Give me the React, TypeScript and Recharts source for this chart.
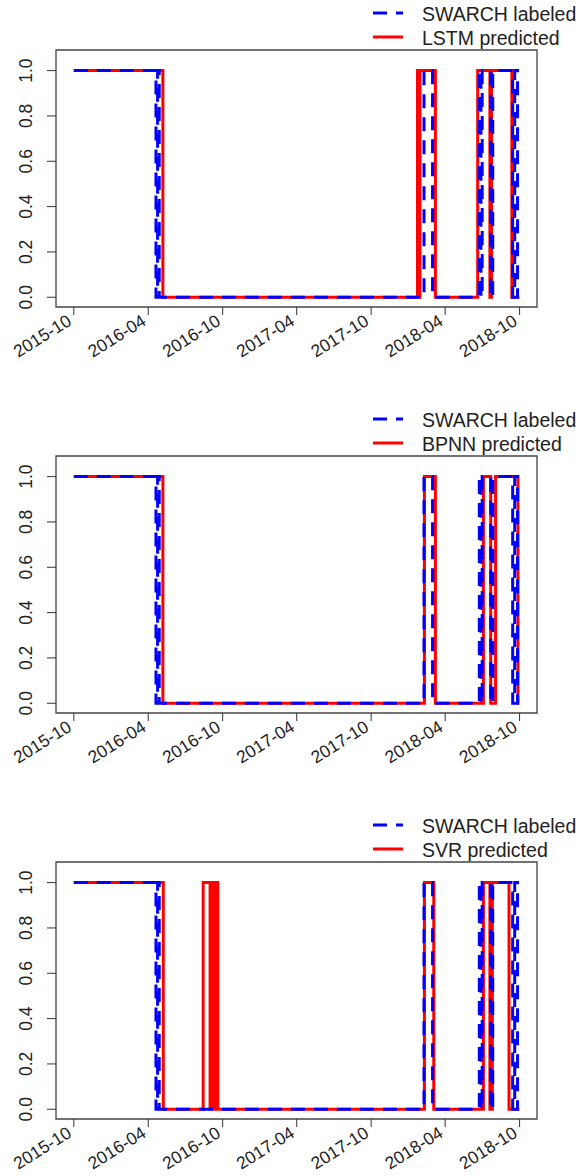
import React from 'react';
import { LineChart, Line, XAxis, YAxis, ReferenceArea } from 'recharts';

const xTickLabels = ['2015-10', '2016-04', '2016-10', '2017-04', '2017-10', '2018-04', '2018-10'];
const yTicks = [0, 0.2, 0.4, 0.6, 0.8, 1.0];

// SWARCH regime labels (same in every panel)
const labeledDates = ['2015-10-01', '2016-04-20', '2016-04-24', '2016-04-28', '2018-02-08', '2018-03-01', '2018-06-24', '2018-06-28', '2018-07-01', '2018-07-22', '2018-07-27', '2018-09-14', '2018-09-19', '2018-09-26', '2018-09-30'];
const labeledValues = [1, 0, 1, 0, 1, 0, 1, 0, 1, 0, 1, 0, 1, 0, 0];

const lstmDates = ['2015-10-01', '2016-05-07', '2018-01-23', '2018-01-26', '2018-01-29', '2018-03-08', '2018-06-20', '2018-07-20', '2018-07-24', '2018-09-12', '2018-09-30'];
const lstmValues = [1, 0, 1, 0, 1, 0, 1, 0, 1, 0, 0];

const bpnnDates = ['2015-10-01', '2016-05-07', '2018-02-09', '2018-03-08', '2018-07-04', '2018-07-22', '2018-08-03', '2018-09-27', '2018-09-30'];
const bpnnValues = [1, 0, 1, 0, 1, 0, 1, 0, 0];

const svrDates = ['2015-10-01', '2016-05-08', '2016-08-14', '2016-08-31', '2016-09-03', '2016-09-06', '2016-09-09', '2016-09-12', '2016-09-15', '2016-09-19', '2018-02-09', '2018-03-04', '2018-07-04', '2018-07-20', '2018-07-26', '2018-09-05', '2018-09-30'];
const svrValues = [1, 0, 1, 0, 1, 0, 1, 0, 1, 0, 1, 0, 1, 0, 1, 0, 0];

const toTime = (s: string) => Date.UTC(+s.slice(0, 4), +s.slice(5, 7) - 1, s.length > 7 ? +s.slice(8, 10) : 1);
const build = (dates: string[], values: number[]) => dates.map((d, i) => ({ t: toTime(d), v: values[i] }));

const labeled = build(labeledDates, labeledValues);
const xTicks = xTickLabels.map(toTime);
const tStart = labeled[0].t;
const tEnd = labeled[labeled.length - 1].t;
const pad = (tEnd - tStart) * 0.04;
const xDomain = [tStart - pad, tEnd + pad];
const yDomain = [-0.043, 1.091];

const FONT = '"Liberation Sans", Arial, sans-serif';
const TXT = '#222';

const XTick = (props: any) => {
  const { x, y, payload } = props;
  const d = new Date(payload.value);
  const label = `${d.getUTCFullYear()}-${String(d.getUTCMonth() + 1).padStart(2, '0')}`;
  const ax = x - 1;
  const ay = y + 7;
  return (
    <text x={ax} y={ay} transform={`rotate(-32 ${ax} ${ay})`} textAnchor="end" fontSize={17.5} fontFamily={FONT} fill={TXT}>
      {label}
    </text>
  );
};

const YTick = (props: any) => {
  const { x, y, payload } = props;
  const ax = x - 13;
  return (
    <text x={ax} y={y} transform={`rotate(-90 ${ax} ${y})`} textAnchor="middle" fontSize={17.5} fontFamily={FONT} fill={TXT}>
      {payload.value.toFixed(1)}
    </text>
  );
};

function Panel({ name, dates, values, height }: { name: string; dates: string[]; values: number[]; height: number }) {
  const pred = build(dates, values);
  return (
    <div style={{ position: 'relative', width: 582, height }}>
      <LineChart width={582} height={height} margin={{ top: 50, right: 45, left: 0, bottom: 0 }}>
        <XAxis
          dataKey="t"
          type="number"
          domain={xDomain}
          ticks={xTicks}
          interval={0}
          allowDataOverflow
          height={height - 307}
          tickSize={8}
          tick={<XTick />}
          axisLine={false}
          tickLine={{ stroke: '#333', strokeWidth: 1 }}
        />
        <YAxis
          type="number"
          domain={yDomain}
          ticks={yTicks}
          interval={0}
          allowDataOverflow
          width={56}
          tickSize={9}
          tick={<YTick />}
          axisLine={false}
          tickLine={{ stroke: '#333', strokeWidth: 1 }}
        />
        <ReferenceArea x1={xDomain[0]} x2={xDomain[1]} y1={yDomain[0]} y2={yDomain[1]} fill="none" stroke="#444" strokeWidth={1.3} />
        <Line data={pred} dataKey="v" type="stepAfter" stroke="#ff0000" strokeWidth={3} dot={false} isAnimationActive={false} />
        <Line data={labeled} dataKey="v" type="stepAfter" stroke="#0000ff" strokeWidth={3} strokeDasharray="14 9" dot={false} isAnimationActive={false} />
      </LineChart>
      <svg width={582} height={50} style={{ position: 'absolute', left: 0, top: 0 }}>
        <line x1={373} x2={403} y1={13} y2={13} stroke="#0000ff" strokeWidth={3} strokeDasharray="14 9" />
        <line x1={373} x2={403} y1={37} y2={37} stroke="#ff0000" strokeWidth={3} />
        <text x={422} y={21} fontSize={19.5} fontFamily={FONT} fill={TXT}>SWARCH labeled</text>
        <text x={422} y={45} fontSize={19.5} fontFamily={FONT} fill={TXT}>{`${name} predicted`}</text>
      </svg>
    </div>
  );
}

export default function App() {
  return (
    <div style={{ width: 582, height: 1176, background: '#fff', overflow: 'hidden' }}>
      <style>{'body{margin:0;}'}</style>
      <Panel name="LSTM" dates={lstmDates} values={lstmValues} height={406} />
      <Panel name="BPNN" dates={bpnnDates} values={bpnnValues} height={406} />
      <Panel name="SVR" dates={svrDates} values={svrValues} height={364} />
    </div>
  );
}
